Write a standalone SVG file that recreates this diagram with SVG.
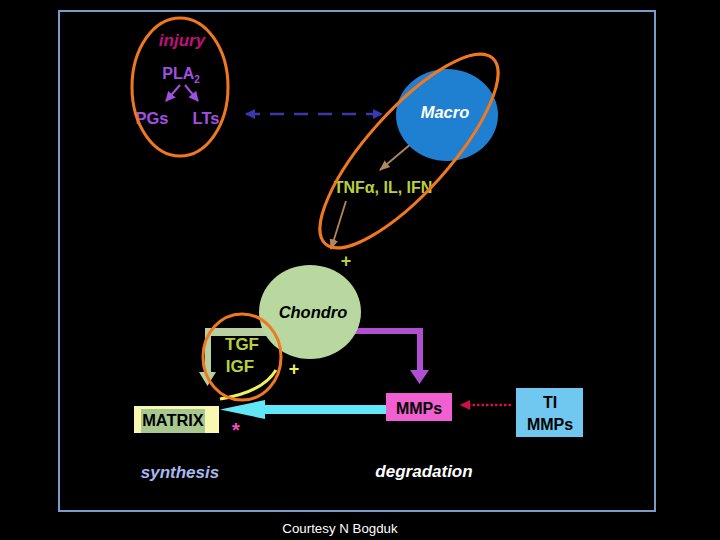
<svg xmlns="http://www.w3.org/2000/svg" width="720" height="540" viewBox="0 0 720 540">
<style>
text{font-family:"Liberation Sans",Arial,sans-serif;font-weight:bold;text-anchor:middle}
.it{font-style:italic}
.yg{fill:#b8d040}
.ring{fill:none;stroke:#f07820;stroke-width:3}
</style>
<defs>
<marker id="pu" viewBox="0 0 10 10" refX="9" refY="5" markerWidth="5" markerHeight="5" orient="auto"><path d="M0,0L10,5L0,10z" fill="#a050e0"/></marker>
<marker id="tan" viewBox="0 0 10 10" refX="9" refY="5" markerWidth="6" markerHeight="6" orient="auto"><path d="M0,1L10,5L0,9z" fill="#b08860"/></marker>
<marker id="db" viewBox="0 0 10 10" refX="9" refY="5" markerWidth="4" markerHeight="4" orient="auto-start-reverse"><path d="M0,0L10,5L0,10z" fill="#3838b0"/></marker>
<marker id="rd" viewBox="0 0 10 10" refX="9" refY="5" markerWidth="4" markerHeight="4" orient="auto"><path d="M0,0L10,5L0,10z" fill="#d01048"/></marker>
</defs>
<rect width="720" height="540" fill="#000"/>
<rect x="59" y="11" width="596" height="500" fill="none" stroke="#7a9ccc" stroke-width="2"/>

<g id="connectors">
<line x1="180" y1="85" x2="166" y2="101" stroke="#a050e0" stroke-width="2" marker-end="url(#pu)"/>
<line x1="185" y1="85" x2="198" y2="101" stroke="#a050e0" stroke-width="2" marker-end="url(#pu)"/>
<line x1="246" y1="114" x2="382" y2="114" stroke="#3838b0" stroke-width="2.5" stroke-dasharray="14,10" marker-start="url(#db)" marker-end="url(#db)"/>
<line x1="412" y1="143" x2="380" y2="170" stroke="#b08860" stroke-width="1.8" marker-end="url(#tan)"/>
<line x1="346" y1="201" x2="331" y2="249" stroke="#b08860" stroke-width="1.8" marker-end="url(#tan)"/>
<path d="M355,331H420V372" fill="none" stroke="#b050d0" stroke-width="6"/>
<path d="M410,370H429L419.5,384z" fill="#b050d0"/>
<path d="M205,328H266V336H211V372H216L207.5,386L199,372H205z" fill="#b8d0a0"/>
<path d="M220,399Q263,392 276,370" fill="none" stroke="#f0f060" stroke-width="3"/>
<line x1="511" y1="405" x2="461" y2="405" stroke="#d01048" stroke-width="2.5" stroke-dasharray="2.5,2" marker-end="url(#rd)"/>
<path d="M386,405H265V400L220,409.5L265,419V414H386z" fill="#60e8f8"/>
</g>

<g id="injury-group">
<text class="it" x="182" y="46" font-size="17" fill="#c0107a">injury</text>
<text x="181" y="79" font-size="16" fill="#a050e0">PLA<tspan font-size="10" dy="4">2</tspan></text>
<text x="152" y="124" font-size="16.5" fill="#a050e0">PGs</text>
<text x="206" y="124" font-size="16.5" fill="#a050e0">LTs</text>
<ellipse class="ring" cx="180" cy="87" rx="48" ry="69"/>
</g>

<g id="macro">
<ellipse cx="447" cy="115" rx="51" ry="46" fill="#1f7fd0"/>
<text class="it" x="445" y="118" font-size="16.5" fill="#fff">Macro</text>
</g>

<g id="cytokines">
<text x="383" y="193" font-size="16" class="yg">TNFα, IL, IFN</text>
<ellipse class="ring" cx="409" cy="151" rx="125" ry="41" transform="rotate(-48 409 151)"/>
</g>

<text x="346" y="267" font-size="18" class="yg">+</text>

<g id="chondro">
<ellipse cx="310" cy="312" rx="51" ry="47" fill="#b8d8a0"/>
<text class="it" x="313" y="318" font-size="16.5" fill="#000">Chondro</text>
</g>

<g id="growth-factors">
<text x="242" y="350" font-size="17" class="yg">TGF</text>
<text x="240" y="372" font-size="17" class="yg">IGF</text>
<ellipse class="ring" cx="242" cy="357" rx="39" ry="43"/>
</g>

<text x="294" y="375" font-size="18" fill="#f0f060">+</text>

<g id="mmps">
<rect x="386" y="393" width="66" height="28" fill="#f060d0"/>
<text x="419" y="414" font-size="16" fill="#000">MMPs</text>
</g>

<g id="timmps">
<rect x="516" y="388" width="67" height="49" fill="#70c8f0"/>
<text x="550" y="408" font-size="16" fill="#000">TI</text>
<text x="550" y="430" font-size="16" fill="#000">MMPs</text>
</g>

<g id="matrix">
<rect x="134" y="406" width="85" height="27" fill="#f8f8b0"/>
<rect x="141" y="409" width="64" height="24" fill="#a8c890"/>
<text x="173" y="426" font-size="16.4" fill="#000">MATRIX</text>
</g>

<text x="236" y="437" font-size="20" fill="#f050c0">*</text>
<text class="it" x="180" y="478" font-size="17" fill="#a8b8f0">synthesis</text>
<text class="it" x="424" y="477" font-size="17" fill="#fff">degradation</text>
<text x="340" y="533" font-size="13.3" fill="#fff" style="font-weight:normal">Courtesy N Bogduk</text>
</svg>
